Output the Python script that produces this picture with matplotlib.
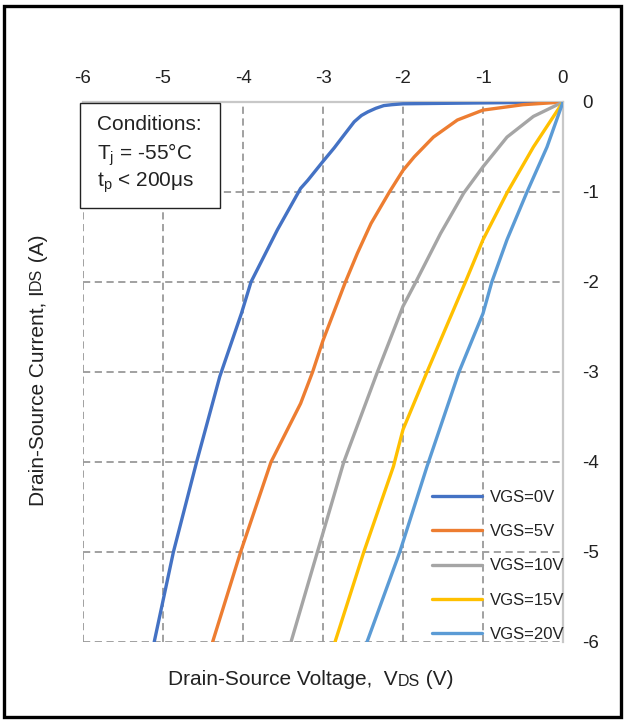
import matplotlib
matplotlib.use("Agg")
import matplotlib.pyplot as plt
from matplotlib.patches import Rectangle

plt.rcParams['font.family'] = ['Liberation Sans', 'DejaVu Sans']

# ---- data ----
series_labels = ["VGS=0V", "VGS=5V", "VGS=10V", "VGS=15V", "VGS=20V"]
colors = ["#4472C4", "#ED7D31", "#A5A5A5", "#FFC000", "#5B9BD5"]

v_0 = [0, -1.0, -2.0, -2.14, -2.24, -2.34, -2.44, -2.52, -2.61, -2.74, -2.86, -3.00, -3.19, -3.28,
       -3.57, -3.90, -4.02, -4.19, -4.29, -4.58, -4.87, -5.11]
i_0 = [0, -0.01, -0.02, -0.03, -0.04, -0.07, -0.11, -0.15, -0.22, -0.37, -0.51, -0.66, -0.87, -0.96,
       -1.42, -2.0, -2.35, -2.79, -3.05, -4.0, -5.0, -6.0]

v_5 = [0, -0.5, -1.0, -1.32, -1.62, -1.86, -2.0, -2.17, -2.40, -2.57, -2.72, -3.0,
       -3.13, -3.28, -3.65, -4.03, -4.38]
i_5 = [0, -0.03, -0.09, -0.2, -0.39, -0.61, -0.76, -1.0, -1.35, -1.68, -2.0, -2.65,
       -3.0, -3.35, -4.0, -5.0, -6.0]

v_10 = [0, -0.37, -0.70, -1.0, -1.24, -1.53, -1.84, -2.0, -2.32, -2.74, -3.07, -3.40]
i_10 = [0, -0.16, -0.39, -0.72, -1.01, -1.46, -2.0, -2.27, -3.0, -4.0, -5.0, -6.0]

v_15 = [0, -0.37, -0.70, -1.0, -1.22, -1.70, -2.0, -2.12, -2.49, -2.85]
i_15 = [0, -0.5, -1.01, -1.53, -2.0, -3.0, -3.64, -4.05, -5.0, -6.0]

v_20 = [0, -0.2, -0.45, -0.70, -0.89, -1.0, -1.30, -1.70, -2.04, -2.45]
i_20 = [0, -0.5, -1.0, -1.53, -2.0, -2.35, -3.0, -4.05, -5.0, -6.0]

x_ticks = [-6, -5, -4, -3, -2, -1, 0]
y_ticks = [0, -1, -2, -3, -4, -5, -6]

# ---- figure ----
W, H = 625, 720
fig = plt.figure(figsize=(W / 100, H / 100), dpi=100)
ax = fig.add_axes([83 / W, 1 - 642 / H, (563 - 83) / W, (642 - 102) / H])

vs = [v_0, v_5, v_10, v_15, v_20]
cs = [i_0, i_5, i_10, i_15, i_20]
for v, c, col, lab in zip(vs, cs, colors, series_labels):
    ax.plot(v, c, color=col, lw=2.4, label=lab, solid_capstyle='round',
            solid_joinstyle='round', zorder=3)

ax.set_xlim(-6, 0)
ax.set_ylim(-6, 0)
ax.set_xticks(x_ticks)
ax.set_yticks(y_ticks)
ax.set_xticklabels([str(t) for t in x_ticks])
ax.set_yticklabels([str(t) for t in y_ticks])
ax.xaxis.tick_top()
ax.yaxis.tick_right()
ax.tick_params(axis='both', length=0, labelsize=13.5, colors='#222222')
ax.tick_params(axis='x', pad=11)
ax.tick_params(axis='y', pad=14)

ax.grid(True, color='#9a9a9a', lw=1.3, ls=(0, (4, 2.5)), zorder=1)
for s in ['left', 'bottom']:
    ax.spines[s].set_visible(False)
for s in ['top', 'right']:
    ax.spines[s].set_color('#C8C8C8')
    ax.spines[s].set_linewidth(1.6)
    ax.spines[s].set_zorder(2)

# legend
leg = ax.legend(loc='lower right', bbox_to_anchor=(1.017, -0.012), frameon=False,
                fontsize=12, handlelength=3.05, handletextpad=0.45,
                labelspacing=1.15, borderaxespad=0.0)
for t in leg.get_texts():
    t.set_color('#222222')

# conditions box
ax.add_patch(Rectangle((-6.04, -1.18), 1.75, 1.17, transform=ax.transData,
                       facecolor='white', edgecolor='#222222', lw=1.0, zorder=4,
                       clip_on=False))
fs = 15
ax.text(-5.82, -0.25, "Conditions:", fontsize=fs, color='#222222', va='center', zorder=5)
ax.text(-5.82, -0.59, r"T$_{\mathregular{j}}$ = -55°C", fontsize=fs, color='#222222',
        va='center', zorder=5)
ax.text(-5.82, -0.90, r"t$_{\mathregular{p}}$ < 200μs", fontsize=fs, color='#222222',
        va='center', zorder=5)

# x label with small "DS"
t1 = fig.text(168 / W, 1 - 685 / H, "Drain-Source Voltage,  V", fontsize=15,
              color='#222222', va='baseline', ha='left')
a1 = ax.annotate("DS", xy=(1, 0), xycoords=t1, va='bottom', ha='left',
                 fontsize=11.5, color='#222222', annotation_clip=False)
a2 = ax.annotate(" (V)", xy=(1, 0), xycoords=a1, va='bottom', ha='left',
                 fontsize=15, color='#222222', annotation_clip=False)

# y label with small "DS"
y1 = fig.text(29 / W, 1 - 506 / H, "Drain-Source Current, I", fontsize=15,
              color='#222222', rotation=90, va='bottom', ha='left')
b1 = ax.annotate("DS", xy=(0, 1), xycoords=y1, va='bottom', ha='left', rotation=90,
                 fontsize=11.5, color='#222222', annotation_clip=False)
b2 = ax.annotate(" (A)", xy=(0, 1), xycoords=b1, va='bottom', ha='left', rotation=90,
                 fontsize=15, color='#222222', annotation_clip=False)

# outer frame
fig.patches.append(Rectangle((4 / W, 3 / H), 617 / W, 711 / H, transform=fig.transFigure,
                             fill=False, edgecolor='black', lw=2.4))

fig.savefig("out.png", dpi=100)
